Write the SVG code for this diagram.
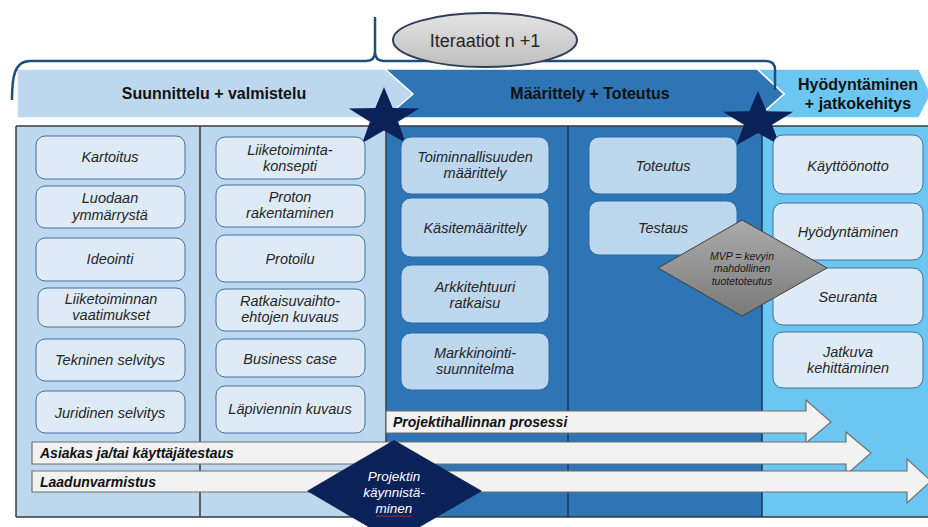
<svg xmlns="http://www.w3.org/2000/svg" width="928" height="527" viewBox="0 0 928 527">
  <defs>
    <linearGradient id="gEllipse" x1="0" y1="0" x2="0" y2="1">
      <stop offset="0" stop-color="#E4E4E4"/>
      <stop offset="1" stop-color="#BEBEBE"/>
    </linearGradient>
    <linearGradient id="gMvp" x1="0" y1="0" x2="0" y2="1">
      <stop offset="0" stop-color="#ABABAB"/>
      <stop offset="1" stop-color="#7A7A7A"/>
    </linearGradient>
    <!-- unit five-point star, scaled per use -->
    <path id="star" d="M0,-1 L0.235,-0.324 L0.951,-0.309 L0.38,0.124 L0.588,0.809 L0,0.4 L-0.588,0.809 L-0.38,0.124 L-0.951,-0.309 L-0.235,-0.324 Z"/>
    <style>
      .ell { font-family: "Liberation Sans", Arial, sans-serif; font-size: 18px; fill: #262626; text-anchor: middle; }
      .head { font-family: "Liberation Sans", Arial, sans-serif; font-weight: bold; font-size: 16px; fill: #111; text-anchor: middle; }
      .box { font-family: "Liberation Sans", Arial, sans-serif; font-style: italic; font-size: 14.5px; fill: #262626; text-anchor: middle; }
      .mvp { font-family: "Liberation Sans", Arial, sans-serif; font-style: italic; font-size: 10.5px; fill: #1A1A1A; text-anchor: middle; }
      .kick { font-family: "Liberation Sans", Arial, sans-serif; font-style: italic; font-size: 13.5px; fill: #FFFFFF; text-anchor: middle; }
      .bar { font-family: "Liberation Sans", Arial, sans-serif; font-style: italic; font-weight: bold; font-size: 14px; fill: #111; }
      .boxA { fill: #DEEBF7; stroke: #41719C; stroke-width: 1; }
      .boxB { fill: #BDD7EE; stroke: #2E6AA8; stroke-width: 1; }
      .arrow { fill: #F2F2F2; stroke: #6F6F6F; stroke-width: 1.2; }
      .div { stroke: #3A3A3A; stroke-width: 1.5; }
    </style>
  </defs>

  <rect width="928" height="527" fill="#FFFFFF"/>

  <!-- phase panels -->
  <g id="panels">
    <rect x="16" y="126" width="370" height="391" fill="#BDD7EE"/>
    <rect x="386" y="126" width="376" height="391" fill="#2E75B6"/>
    <rect x="762" y="126" width="170" height="391" fill="#6BC7F1"/>
    <line class="div" x1="16" y1="126" x2="928" y2="126"/>
    <line class="div" x1="16" y1="517" x2="928" y2="517"/>
    <line class="div" x1="16" y1="126" x2="16" y2="517"/>
    <line class="div" x1="200" y1="126" x2="200" y2="517"/>
    <line class="div" x1="386" y1="126" x2="386" y2="517"/>
    <line x1="568" y1="126" x2="568" y2="517" stroke="#1F3554" stroke-width="1.5"/>
    <line x1="762" y1="126" x2="762" y2="517" stroke="#1F3554" stroke-width="1.5"/>
  </g>

  <!-- phase header arrows -->
  <g id="header-hyodyntaminen">
    <polygon points="757,69 919,69 931,94 919,118 757,118 784,94" fill="#6BC7F1" stroke="#FFFFFF" stroke-width="1.5"/>
    <text class="head" x="858" y="90">Hyödyntäminen</text>
    <text class="head" x="858" y="109">+ jatkokehitys</text>
  </g>
  <g id="header-maarittely">
    <polygon points="385,69 757,69 784,94 757,118 385,118" fill="#2E75B6" stroke="#FFFFFF" stroke-width="1.5"/>
    <text class="head" x="590" y="99">Määrittely + Toteutus</text>
  </g>
  <g id="header-suunnittelu">
    <polygon points="17,69 385,69 413,94 385,118 17,118" fill="#BDD7EE" stroke="#FFFFFF" stroke-width="1.5"/>
    <text class="head" x="214" y="99">Suunnittelu + valmistelu</text>
  </g>

  <!-- iteration brace -->
  <g id="brace">
    <path d="M12,100 C12,78 14,61 30,61 H366 Q375,61 375,52 V17 M375,52 Q375,61 384,61 H766 Q775,61 775,70 V90" fill="none" stroke="#1F4E79" stroke-width="2.5"/>
  </g>
  <g id="iteraatiot">
    <ellipse cx="485" cy="40" rx="92" ry="27" fill="url(#gEllipse)" stroke="#2F3F55" stroke-width="2"/>
    <text class="ell" x="485" y="47">Iteraatiot n +1</text>
  </g>

  <!-- milestone stars -->
  <g id="star-1"><use href="#star" transform="translate(384,118) scale(37,31)" fill="#0B2259"/></g>
  <g id="star-2"><use href="#star" transform="translate(758,121) scale(37,30)" fill="#0B2259"/></g>

  <!-- column 1 -->
  <g id="kartoitus"><rect class="boxA" x="36" y="136" width="149" height="43" rx="9"/><text class="box" x="110" y="162">Kartoitus</text></g>
  <g id="luodaan"><rect class="boxA" x="36" y="186" width="149" height="42" rx="9"/><text class="box" x="110" y="203">Luodaan</text><text class="box" x="110" y="220">ymmärrystä</text></g>
  <g id="ideointi"><rect class="boxA" x="36" y="238" width="149" height="43" rx="9"/><text class="box" x="110" y="264">Ideointi</text></g>
  <g id="vaatimukset"><rect class="boxA" x="38" y="288" width="147" height="39" rx="9"/><text class="box" x="111" y="304">Liiketoiminnan</text><text class="box" x="111" y="320">vaatimukset</text></g>
  <g id="tekninen"><rect class="boxA" x="36" y="339" width="149" height="42" rx="9"/><text class="box" x="110" y="365">Tekninen selvitys</text></g>
  <g id="juridinen"><rect class="boxA" x="36" y="391" width="149" height="42" rx="9"/><text class="box" x="110" y="418">Juridinen selvitys</text></g>

  <!-- column 2 -->
  <g id="konsepti"><rect class="boxA" x="216" y="137" width="149" height="42" rx="9"/><text class="box" x="290" y="155">Liiketoiminta-</text><text class="box" x="290" y="171">konsepti</text></g>
  <g id="proton"><rect class="boxA" x="216" y="185" width="149" height="42" rx="9"/><text class="box" x="290" y="202">Proton</text><text class="box" x="290" y="218">rakentaminen</text></g>
  <g id="protoilu"><rect class="boxA" x="216" y="235" width="149" height="47" rx="9"/><text class="box" x="290" y="264">Protoilu</text></g>
  <g id="ratkaisuvaihto"><rect class="boxA" x="216" y="289" width="149" height="42" rx="9"/><text class="box" x="290" y="306">Ratkaisuvaihto-</text><text class="box" x="290" y="322">ehtojen kuvaus</text></g>
  <g id="business-case"><rect class="boxA" x="216" y="339" width="149" height="38" rx="9"/><text class="box" x="290" y="364">Business case</text></g>
  <g id="lapivienti"><rect class="boxA" x="216" y="386" width="149" height="47" rx="9"/><text class="box" x="290" y="414">Läpiviennin kuvaus</text></g>

  <!-- column 3 -->
  <g id="toiminnallisuus"><rect class="boxB" x="401" y="137" width="148" height="57" rx="10"/><text class="box" x="475" y="162">Toiminnallisuuden</text><text class="box" x="475" y="178">määrittely</text></g>
  <g id="kasitemaarittely"><rect class="boxB" x="401" y="198" width="148" height="59" rx="10"/><text class="box" x="475" y="233">Käsitemäärittely</text></g>
  <g id="arkkitehtuuri"><rect class="boxB" x="401" y="265" width="148" height="58" rx="10"/><text class="box" x="475" y="292">Arkkitehtuuri</text><text class="box" x="475" y="308">ratkaisu</text></g>
  <g id="markkinointi"><rect class="boxB" x="401" y="333" width="148" height="57" rx="10"/><text class="box" x="475" y="358">Markkinointi-</text><text class="box" x="475" y="374">suunnitelma</text></g>

  <!-- column 4 -->
  <g id="toteutus"><rect class="boxB" x="589" y="137" width="148" height="57" rx="10"/><text class="box" x="663" y="171">Toteutus</text></g>
  <g id="testaus"><rect class="boxB" x="589" y="201" width="148" height="54" rx="10"/><text class="box" x="663" y="233">Testaus</text></g>

  <!-- column 5 -->
  <g id="kayttoonotto"><rect class="boxA" x="773" y="135" width="150" height="59" rx="10"/><text class="box" x="848" y="171">Käyttöönotto</text></g>
  <g id="hyodyntaminen"><rect class="boxA" x="773" y="203" width="150" height="57" rx="10"/><text class="box" x="848" y="237">Hyödyntäminen</text></g>
  <g id="seuranta"><rect class="boxA" x="773" y="268" width="150" height="57" rx="10"/><text class="box" x="848" y="302">Seuranta</text></g>
  <g id="jatkuva"><rect class="boxA" x="773" y="332" width="150" height="56" rx="10"/><text class="box" x="848" y="357">Jatkuva</text><text class="box" x="848" y="373">kehittäminen</text></g>

  <!-- MVP decision diamond -->
  <g id="mvp">
    <polygon points="658,268 742,220 827,268 742,316" fill="url(#gMvp)" stroke="#3F3F3F" stroke-width="1"/>
    <text class="mvp" x="742" y="260">MVP = kevyin</text>
    <text class="mvp" x="742" y="272">mahdollinen</text>
    <text class="mvp" x="742" y="285">tuotetoteutus</text>
  </g>

  <!-- cross-phase process arrows -->
  <g id="connectors">
    <g id="projektihallinta">
      <path class="arrow" d="M386,411 H806 V400 L831,422 L806,443 V433 H386 Z"/>
      <text class="bar" x="393" y="427">Projektihallinnan prosessi</text>
    </g>
    <g id="asiakastestaus">
      <path class="arrow" d="M32,442 H846 V432 L871,453 L846,475 V464 H32 Z"/>
      <text class="bar" x="40" y="458">Asiakas ja/tai käyttäjätestaus</text>
    </g>
    <g id="laadunvarmistus">
      <path class="arrow" d="M32,471 H907 V459 L931,481 L907,503 V492 H32 Z"/>
      <text class="bar" x="40" y="487">Laadunvarmistus</text>
    </g>
  </g>

  <!-- project kick-off diamond -->
  <g id="kaynnistaminen">
    <polygon points="307,491 394,440 482,491 394,542" fill="#0B2259"/>
    <text class="kick" x="394" y="481">Projektin</text>
    <text class="kick" x="394" y="497">käynnistä-</text>
    <text class="kick" x="394" y="513">minen</text>
    <path d="M376,517 l2,-1.5 l2,1.5 l2,-1.5 l2,1.5 l2,-1.5 l2,1.5 l2,-1.5 l2,1.5 l2,-1.5 l2,1.5 l2,-1.5 l2,1.5 l2,-1.5 l2,1.5 l2,-1.5 l2,1.5 l2,-1.5 l2,1.5" fill="none" stroke="#D03030" stroke-width="0.8"/>
  </g>
</svg>
